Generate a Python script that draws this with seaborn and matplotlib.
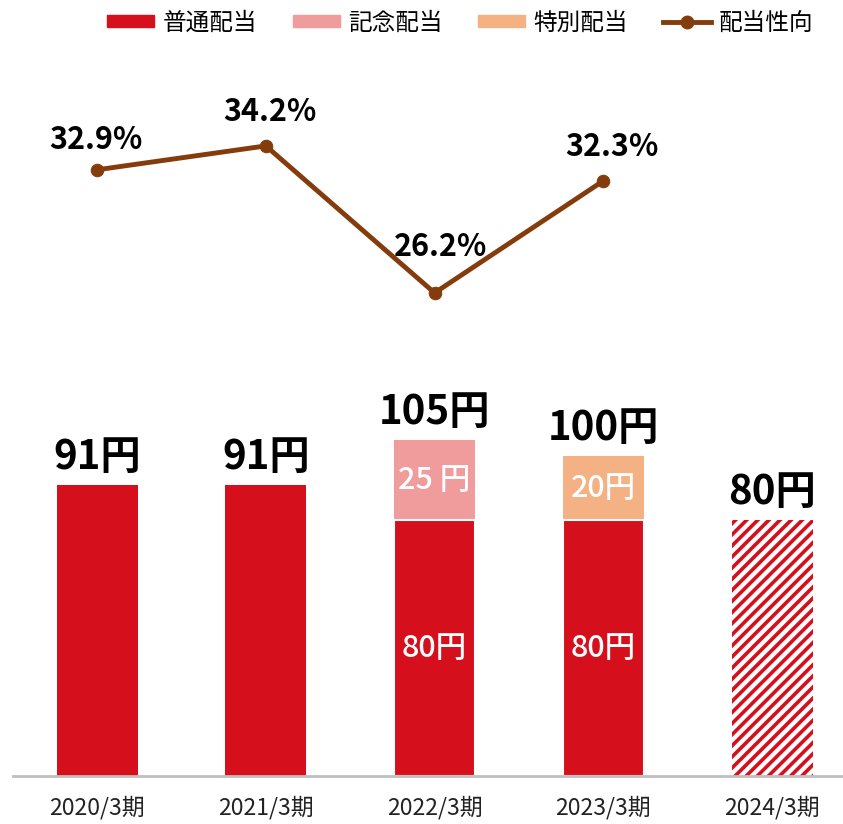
import numpy as np
import pandas as pd
import matplotlib
matplotlib.use('Agg')
import matplotlib.pyplot as plt
from matplotlib.lines import Line2D
from matplotlib.patches import Patch
import seaborn as sns

# %% data
periods = ['2020/3期', '2021/3期', '2022/3期', '2023/3期', '2024/3期']
regular = [91, 91, 80, 80, 80]
commemorative = [0, 0, 25, 0, 0]
special = [0, 0, 0, 20, 0]
forecast = '2024/3期'
payout_x = [0, 1, 2, 3]
payout_ratio = [32.9, 34.2, 26.2, 32.3]
legend_labels = ['普通配当', '記念配当', '特別配当', '配当性向']

# %% colors and style
c_regular = '#D50F1C'
c_commem = '#F19C9C'
c_special = '#F4B183'
c_line = '#843C0C'

plt.rcParams['font.family'] = ['Noto Sans CJK JP', 'DejaVu Sans']
plt.rcParams['hatch.linewidth'] = 2.6

df = pd.DataFrame({'period': periods, 'regular': regular,
                   'commemorative': commemorative, 'special': special})
df['total'] = df[['regular', 'commemorative', 'special']].sum(axis=1)
top_colors = [c_commem if c > 0 else c_special if s > 0 else c_regular
              for c, s in zip(commemorative, special)]

fig = plt.figure(figsize=(8.43, 8.24), dpi=100)
ax = fig.add_axes([13 / 843, 48 / 824, 830 / 843, 776 / 824])

# total height first (top segment colour), regular part drawn over it
sns.barplot(data=df, x='period', y='total', hue='period', palette=top_colors,
            order=periods, width=0.48, saturation=1, legend=False,
            linewidth=0, ax=ax)
n_total = len(ax.patches)
sns.barplot(data=df[df['period'] != forecast], x='period', y='regular',
            order=periods, color=c_regular, width=0.48, saturation=1,
            linewidth=0, ax=ax)

# white separator on stacked bars
for i, p in enumerate(ax.patches[n_total:]):
    if commemorative[i] + special[i] > 0:
        p.set_edgecolor('white')
        p.set_linewidth(1.5)

# forecast bar hatched
fc = ax.patches[periods.index(forecast)]
fc.set_facecolor('white')
fc.set_edgecolor(c_regular)
fc.set_hatch('///')
fc.set_linewidth(0)

# labels
for i, row in df.iterrows():
    ax.annotate(f'{row.total}円', (i, row.total), xytext=(0, 5),
                textcoords='offset points', ha='center', va='bottom',
                fontsize=29, fontweight='bold', color='black')
    if row.commemorative > 0:
        ax.text(i, row.regular + row.commemorative / 2, f'{row.commemorative} 円',
                ha='center', va='center', fontsize=22, color='white', fontweight='medium')
    if row.special > 0:
        ax.text(i, row.regular + row.special / 2, f'{row.special}円',
                ha='center', va='center', fontsize=22, color='white', fontweight='medium')
    if row.commemorative + row.special > 0:
        ax.text(i, row.regular / 2, f'{row.regular}円',
                ha='center', va='center', fontsize=22, color='white', fontweight='medium')

ax.set_xlim(-0.498, 4.42)
ax.set_ylim(0, 242.5)
ax.set_xlabel('')
ax.set_ylabel('')
ax.set_yticks([])
ax.tick_params(axis='x', length=0, pad=14, labelsize=16.5, colors='#222222')
for s in ['top', 'right', 'left']:
    ax.spines[s].set_visible(False)
ax.spines['bottom'].set_color('#BFBFBF')
ax.spines['bottom'].set_linewidth(2)

# payout ratio line
ax2 = ax.twinx()
sns.lineplot(x=payout_x, y=payout_ratio, color=c_line, linewidth=3.5,
             marker='o', markersize=9, markeredgecolor=c_line, ax=ax2)
ax2.set_ylim(-0.09, 42.14)
ax2.set_axis_off()
label_offsets = [(-0.7, 21.6), (3, 24.5), (4.3, 33), (6.5, 24.5)]
for x, v, off in zip(payout_x, payout_ratio, label_offsets):
    ax2.annotate(f'{v}%', (x, v), xytext=off, textcoords='offset points',
                 ha='center', va='center', fontsize=22, fontweight='bold')

handles = [Patch(color=c_regular), Patch(color=c_commem), Patch(color=c_special),
           Line2D([], [], color=c_line, linewidth=3.5, marker='o', markersize=9)]
fig.legend(handles, legend_labels, loc='upper center', bbox_to_anchor=(0.546, 1.012),
           ncol=4, frameon=False, fontsize=17, handlelength=2.0, handleheight=0.45,
           handletextpad=0.35, columnspacing=1.5)

fig.savefig('out.png', dpi=100)
